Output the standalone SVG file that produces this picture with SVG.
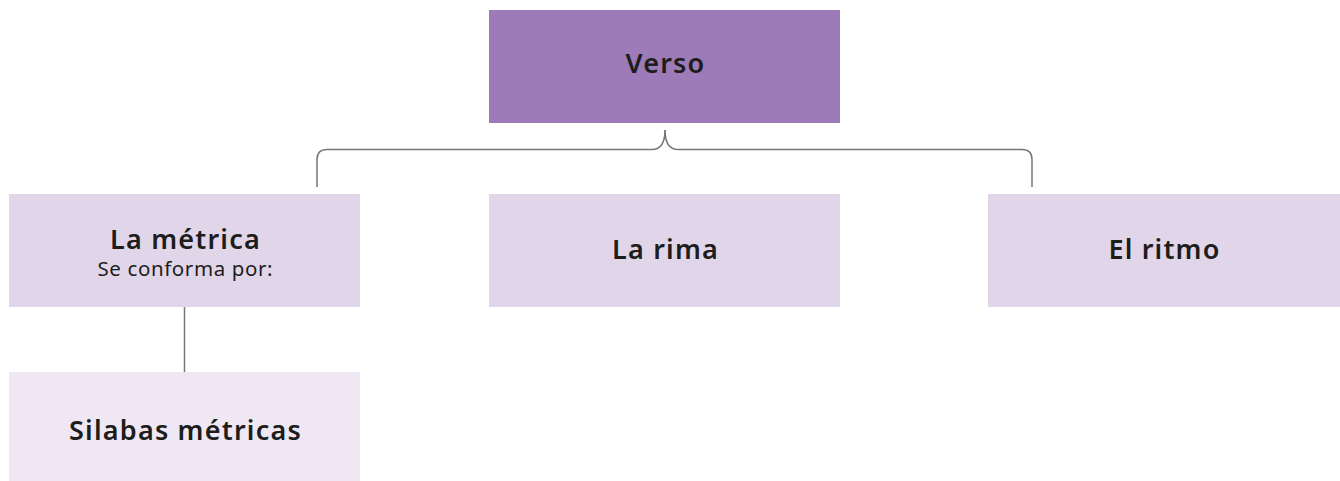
<svg xmlns="http://www.w3.org/2000/svg" width="1340" height="481" viewBox="0 0 1340 481">
<style>
.t{font-family:"Noto Sans","DejaVu Sans",sans-serif;font-weight:600;font-size:27px;letter-spacing:1.2px;fill:#1d1d1b;text-anchor:middle}
.s{font-family:"Noto Sans","DejaVu Sans",sans-serif;font-weight:400;font-size:20.5px;letter-spacing:0.6px;fill:#1d1d1b;text-anchor:middle}
.ln{fill:none;stroke:#777;stroke-width:1.5}
</style>
<rect width="1340" height="481" fill="#fff"/>
<g id="connectors">
<path class="ln" d="M665,130 C665,143 660,149.5 652,149.5 L327,149.5 Q317,149.5 317,159.5 L317,187"/>
<path class="ln" d="M665,130 C665,143 670,149.5 678,149.5 L1022,149.5 Q1032,149.5 1032,159.5 L1032,187"/>
<path class="ln" d="M184.5,307 L184.5,372"/>
</g>
<g id="verso"><rect x="489" y="10" width="351" height="113" fill="#9d7ab8"/><text class="t" x="665.5" y="73">Verso</text></g>
<g id="metrica"><rect x="9" y="194" width="351" height="113" fill="#e1d6e9"/><text class="t" x="185.5" y="249">La métrica</text><text class="s" x="185.3" y="276">Se conforma por:</text></g>
<g id="rima"><rect x="489" y="194" width="351" height="113" fill="#e1d6e9"/><text class="t" x="665.5" y="259">La rima</text></g>
<g id="ritmo"><rect x="988" y="194" width="352" height="113" fill="#e1d6e9"/><text class="t" x="1164.5" y="259">El ritmo</text></g>
<g id="silabas"><rect x="9" y="372" width="351" height="113" fill="#efe8f4"/><text class="t" x="185.5" y="440">Silabas métricas</text></g>
</svg>
